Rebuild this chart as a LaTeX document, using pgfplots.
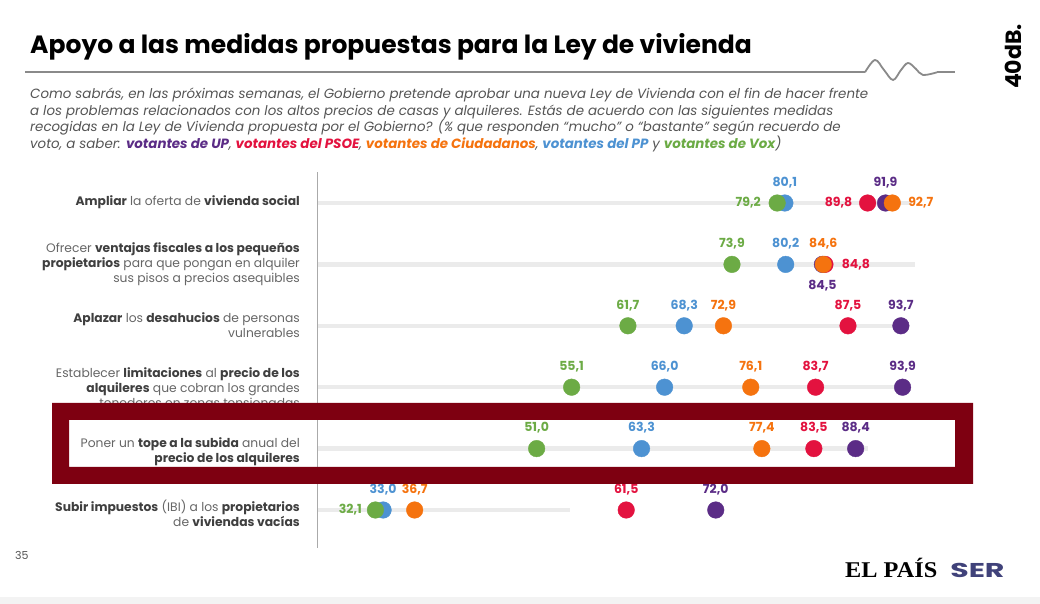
\documentclass[border=0pt]{standalone}
\usepackage{fontspec}
\setmainfont{Poppins}
\newfontfamily\serifb{Liberation Serif}
\usepackage{pgfplots}
\usepackage{pgfplotstable}
\pgfplotsset{compat=1.18}
\definecolor{cUP}{HTML}{5B2C86}
\definecolor{cPSOE}{HTML}{E3123F}
\definecolor{cCs}{HTML}{F5730F}
\definecolor{cPP}{HTML}{4D92D2}
\definecolor{cVox}{HTML}{6CAB45}
\definecolor{frameRed}{HTML}{7E0011}
\definecolor{track}{HTML}{EBEBEB}
\definecolor{labgray}{HTML}{666666}
\definecolor{labdark}{HTML}{3F3F3F}
\definecolor{subgray}{HTML}{555555}
\definecolor{rulegray}{HTML}{8A8A8A}
\definecolor{axgray}{HTML}{AAAAAA}
\definecolor{strip}{HTML}{F3F3F3}
\definecolor{serblue}{HTML}{40427A}

\pgfplotstableread{
v r lab dx dy
91.9 1 91,9 0 20.5
84.5 2 84,5 0 -21
93.7 3 93,7 0 20.5
93.9 4 93,9 0 20.5
88.4 5 88,4 0 20.5
72.0 6 72,0 0 20.5
}\upTab
\pgfplotstableread{
v r lab dx dy
89.8 1 89,8 -29 0
84.8 2 84,8 31 0
87.5 3 87,5 0 20.5
83.7 4 83,7 0 20.5
83.5 5 83,5 0 20.5
61.5 6 61,5 0 20.5
}\psoeTab
\pgfplotstableread{
v r lab dx dy
92.7 1 92,7 28.5 0
84.6 2 84,6 0 20.5
72.9 3 72,9 0 20.5
76.1 4 76,1 0 20.5
77.4 5 77,4 0 20.5
36.7 6 36,7 0 20.5
}\csTab
\pgfplotstableread{
v r lab dx dy
80.1 1 80,1 0 20.5
80.2 2 80,2 0 20.5
68.3 3 68,3 0 20.5
66.0 4 66,0 0 20.5
63.3 5 63,3 0 20.5
33.0 6 33,0 0 20.5
}\ppTab
\pgfplotstableread{
v r lab dx dy
79.2 1 79,2 -29 0
73.9 2 73,9 0 20.5
61.7 3 61,7 0 20.5
55.1 4 55,1 0 20.5
51.0 5 51,0 0 20.5
32.1 6 32,1 -25 0
}\voxTab

\pgfplotsset{
  party/.style={color=#1, only marks, mark=*, mark size=8.3pt,
    mark options={solid, draw=#1, fill=#1, line width=0.4pt},
    nodes near coords={\pgfplotspointmeta},
    point meta=explicit symbolic,
    visualization depends on={\thisrow{dx} \as \ldx},
    visualization depends on={\thisrow{dy} \as \ldy},
    every node near coord/.append style={anchor=center, xshift=\ldx pt, yshift=\ldy pt,
      text=#1, inner sep=0pt, font=\fontsize{12.5}{14}\selectfont\bfseries}},
  trk/.style={draw=track, line width=4.5pt, forget plot}
}

\begin{document}
\begin{tikzpicture}
\begin{scope}[x=1pt,y=1pt]
\path[use as bounding box] (0,0) rectangle (1040,604);
\fill[white] (0,0) rectangle (1040,604);
\fill[strip] (0,0) rectangle (1040,7);

% title
\node[anchor=base west, inner sep=0pt, font=\fontsize{25}{29}\selectfont\bfseries, text=black] at (30,550.7) {Apoyo a las medidas propuestas para la Ley de vivienda};
% rule and wave
\draw[rulegray, line width=1.8pt] (25,531.7) -- (865,531.7);
\draw[rulegray, line width=1.8pt] plot[smooth, tension=0.6] coordinates {(865,531.7) (875,544) (884,534) (893,524) (901,534) (908,541) (916,535) (923,529) (937,531.7)};
\draw[rulegray, line width=1.8pt] (937,531.7) -- (955,531.7);
% logo
\node[rotate=90, inner sep=0pt, font=\fontsize{22}{24}\selectfont\bfseries] at (1013,547.5) {40dB.};

% subtitle
\begin{scope}[every node/.style={anchor=base west, inner sep=0pt, text=subgray, font=\fontsize{13.4}{15}\selectfont\itshape}]
\node at (30,505.5) {Como sabrás, en las próximas semanas, el Gobierno pretende aprobar una nueva Ley de Vivienda con el fin de hacer frente};
\node at (30,488.8) {a los problemas relacionados con los altos precios de casas y alquileres. Estás de acuerdo con las siguientes medidas};
\node at (30,472.2) {recogidas en la Ley de Vivienda propuesta por el Gobierno? (\% que responden “mucho” o “bastante” según recuerdo de};
\node at (30,455.5) {voto, a saber: {\bfseries\color{cUP}votantes de UP}, {\bfseries\color{cPSOE}votantes del PSOE}, {\bfseries\color{cCs}votantes de Ciudadanos}, {\bfseries\color{cPP}votantes del PP} y {\bfseries\color{cVox}votantes de Vox})};
\end{scope}

% row labels
\begin{scope}[every node/.style={anchor=base east, inner sep=0pt, text=labgray, font=\fontsize{12.3}{15}\selectfont}]
\newcommand{\B}[1]{{\bfseries\color{labdark}#1}}
\node at (300,398) {\B{Ampliar} la oferta de \B{vivienda social}};
\node at (300,351.5) {Ofrecer \B{ventajas fiscales a los pequeños}};
\node at (300,336.5) {\B{propietarios} para que pongan en alquiler};
\node at (300,321.5) {sus pisos a precios asequibles};
\node at (300,281.5) {\B{Aplazar} los \B{desahucios} de personas};
\node at (300,266.5) {vulnerables};
\node at (300,226.5) {Establecer \B{limitaciones} al \B{precio de los}};
\node at (300,211.5) {\B{alquileres} que cobran los grandes};
\node at (300,196.5) {tenedores en zonas tensionadas};
\node at (300,156.5) {Poner un \B{tope a la subida} anual del};
\node at (300,141.5) {\B{precio de los alquileres}};
\node at (300,92.5) {\B{Subir impuestos} (IBI) a los \B{propietarios}};
\node at (300,77.5) {de \B{viviendas vacías}};
\end{scope}

% vertical axis line
\draw[axgray, line width=1pt] (317,56) -- (317,432);
\end{scope}

\begin{axis}[at={(101.6pt,32.6pt)}, anchor=south west, scale only axis,
  width=853pt, height=429.8pt, xmin=0, xmax=100, ymin=0, ymax=7,
  y dir=reverse, hide axis, clip=false]
\addplot[trk] coordinates {(25.4,1) (95,1)};
\addplot[trk] coordinates {(25.4,2) (95.4,2)};
\addplot[trk] coordinates {(25.4,3) (94.5,3)};
\addplot[trk] coordinates {(25.4,4) (94.8,4)};
\addplot[trk] coordinates {(25.4,5) (89.8,5)};
\addplot[trk] coordinates {(25.4,6) (54.9,6)};
\addplot[party=cPP] table[x=v, y=r, meta=lab] {\ppTab};
\addplot[party=cVox] table[x=v, y=r, meta=lab] {\voxTab};
\addplot[party=cPSOE] table[x=v, y=r, meta=lab] {\psoeTab};
\addplot[party=cUP] table[x=v, y=r, meta=lab] {\upTab};
\addplot[party=cCs] table[x=v, y=r, meta=lab] {\csTab};
\end{axis}

\begin{scope}[x=1pt,y=1pt]
% highlight frame
\fill[frameRed, even odd rule] (52,120) rectangle (973,201) (69,137) rectangle (955,184);
% footer
\node[anchor=base west, inner sep=0pt, text=subgray, font=\fontsize{11}{13}\selectfont] at (15,44) {35};
\node[anchor=base west, inner sep=0pt, xscale=1.08, font=\serifb\fontsize{22.5}{24}\selectfont\bfseries] at (845,26) {EL PAÍS};
\node[anchor=base west, inner sep=0pt, xscale=1.5, text=serblue, font=\fontsize{20}{22}\selectfont\bfseries] at (950,26) {SER};
\end{scope}
\end{tikzpicture}
\end{document}
